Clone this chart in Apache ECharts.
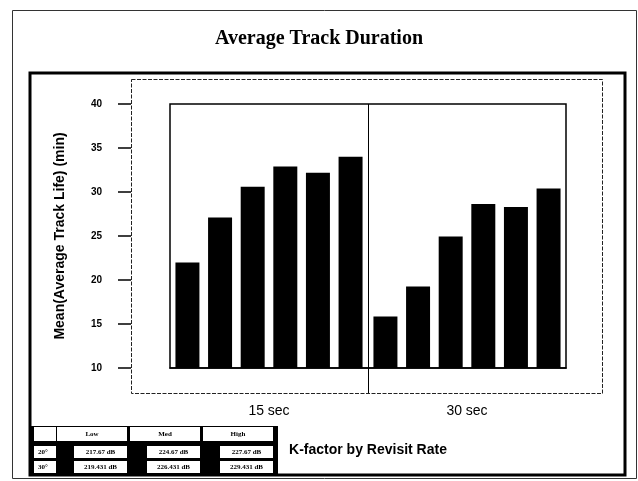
<!DOCTYPE html>
<html>
<head>
<meta charset="utf-8">
<script src="https://cdn.jsdelivr.net/npm/echarts@6/dist/echarts.min.js"></script>
<style>
html,body{margin:0;padding:0;background:#fff;}
#c{width:638px;height:481px;}
</style>
</head>
<body>
<div id="c"></div>
<script>
// ---- data ----
var categories = ['15 sec', '30 sec'];
var seriesNames = ['20° Low', '30° Low', '20° Med', '30° Med', '20° High', '30° High'];
var s20Low  = [22.0, 15.85];
var s30Low  = [27.1, 19.25];
var s20Med  = [30.6, 24.95];
var s30Med  = [32.9, 28.65];
var s20High = [32.2, 28.3];
var s30High = [34.0, 30.4];
var yTicks = [10, 15, 20, 25, 30, 35, 40];
var legendCols = ['Low', 'Med', 'High'];
var legendRows = ['20°', '30°'];
var legendValues20 = ['217.67 dB', '224.67 dB', '227.67 dB'];
var legendValues30 = ['219.431 dB', '226.431 dB', '229.431 dB'];

var allSeries = [s20Low, s30Low, s20Med, s30Med, s20High, s30High];

var chart = echarts.init(document.getElementById('c'), null, {renderer: 'canvas'});

var sans = '"Liberation Sans", Arial, sans-serif';
var serif = '"Liberation Serif", "Times New Roman", serif';

var option = {
  animation: false,
  backgroundColor: '#fff',
  title: {
    text: 'Average Track Duration',
    left: 'center',
    top: 24,
    textStyle: {fontFamily: serif, fontWeight: 'bold', fontSize: 20, color: '#000'}
  },
  grid: {
    left: 170, right: 72, top: 104, bottom: 113,
    show: true, borderColor: '#000', borderWidth: 1.5, backgroundColor: 'transparent'
  },
  xAxis: {
    type: 'category',
    data: categories,
    axisLine: {show: true, lineStyle: {color: '#000', width: 1.5}},
    axisTick: {show: false},
    axisLabel: {margin: 36, fontSize: 14, color: '#000', fontFamily: sans},
    splitLine: {show: false},
    name: 'K-factor by Revisit Rate',
    nameLocation: 'middle',
    nameGap: 75,
    nameTextStyle: {fontSize: 14, fontWeight: 'bold', color: '#000', fontFamily: sans}
  },
  yAxis: {
    type: 'value',
    min: yTicks[0], max: yTicks[yTicks.length - 1], interval: 5,
    offset: 39,
    axisLine: {show: false},
    axisTick: {show: true, length: 13, lineStyle: {color: '#000', width: 1.5}},
    axisLabel: {margin: 29, fontSize: 10, fontWeight: 'bold', color: '#000', fontFamily: sans},
    splitLine: {show: false},
    name: 'Mean(Average Track Life) (min)',
    nameLocation: 'middle',
    nameRotate: 90,
    nameGap: 64,
    nameTextStyle: {fontSize: 14, fontWeight: 'bold', color: '#000', fontFamily: sans}
  },
  series: allSeries.map(function (d, i) {
    return {
      name: seriesNames[i],
      type: 'bar',
      data: d,
      barGap: '36%',
      barCategoryGap: '5.5%',
      itemStyle: {color: '#000'},
      clip: true
    };
  })
};
chart.setOption(option);

// ---- decorations: frames, divider and legend table ----
var p0 = chart.convertToPixel({gridIndex: 0}, [0, yTicks[0]]);
var p1 = chart.convertToPixel({gridIndex: 0}, [1, yTicks[yTicks.length - 1]]);
var divX = Math.round((p0[0] + p1[0]) / 2) + 0.5;

var g = [];
// outer page frame
g.push({type: 'rect', shape: {x: 12.5, y: 10.5, width: 624, height: 468},
  style: {fill: null, stroke: '#333', lineWidth: 1}, z: 1});
// inner thick frame
g.push({type: 'rect', shape: {x: 30, y: 73, width: 595, height: 402},
  style: {fill: null, stroke: '#000', lineWidth: 3}, z: 1});
// dashed axis box
g.push({type: 'rect', shape: {x: 131.5, y: 79.5, width: 471, height: 314},
  style: {fill: null, stroke: '#222', lineWidth: 1, lineDash: [4, 1.5]}, z: 1});
// divider between categories
g.push({type: 'line', shape: {x1: divX, y1: p1[1], x2: divX, y2: 393},
  style: {stroke: '#000', lineWidth: 1}, z: 5});

// legend table
g.push({type: 'rect', shape: {x: 30, y: 426, width: 248, height: 49}, style: {fill: '#000'}, z: 10});
g.push({type: 'rect', shape: {x: 34, y: 427, width: 22, height: 14}, style: {fill: '#fff'}, z: 11});
var groupX = [57, 130, 203];
var rowY = [446, 461];
var vals = [legendValues20, legendValues30];
legendCols.forEach(function (c, ci) {
  var gx = groupX[ci];
  g.push({type: 'rect', shape: {x: gx, y: 427, width: 70, height: 14}, style: {fill: '#fff'}, z: 11});
  g.push({type: 'text', x: gx + 35, y: 434, z: 12,
    style: {text: c, fontSize: 7, fontWeight: 'bold', fontFamily: serif, fill: '#000', align: 'center', verticalAlign: 'middle'}});
  rowY.forEach(function (ry, ri) {
    g.push({type: 'rect', shape: {x: gx + 17, y: ry, width: 53, height: 12}, style: {fill: '#fff'}, z: 11});
    g.push({type: 'text', x: gx + 17 + 26.5, y: ry + 6, z: 12,
      style: {text: vals[ri][ci], fontSize: 7, fontWeight: 'bold', fontFamily: serif, fill: '#000', align: 'center', verticalAlign: 'middle'}});
  });
});
legendRows.forEach(function (r, ri) {
  var ry = rowY[ri];
  g.push({type: 'rect', shape: {x: 34, y: ry, width: 22, height: 12}, style: {fill: '#fff'}, z: 11});
  g.push({type: 'text', x: 38, y: ry + 6, z: 12,
    style: {text: r, fontSize: 7, fontWeight: 'bold', fontFamily: serif, fill: '#000', align: 'left', verticalAlign: 'middle'}});
});

chart.setOption({graphic: {elements: g}});
</script>
</body>
</html>
